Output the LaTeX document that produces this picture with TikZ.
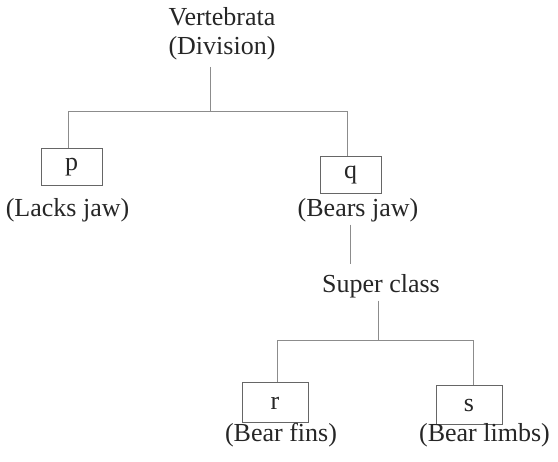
\documentclass[tikz,border=0pt]{standalone}
\usepackage{fontspec}
\setmainfont{Liberation Serif}
\usetikzlibrary{positioning}

\begin{document}
\begin{tikzpicture}[x=1pt, y=-1pt, every node/.style={font=\fontsize{26}{29}\selectfont, text=black!85},
    taxbox/.style={draw=black!60, line width=1pt, inner sep=0pt},
    taxlabel/.style={inner sep=2pt, anchor=base},
    link/.style={draw=black!45, line width=1pt}]
  \useasboundingbox (0,0) rectangle (558,462);

  % Division
  \node[align=center, anchor=south, inner sep=7pt] (vert) at (222,67) {Vertebrata\\(Division)};

  % First split
  \node[taxbox, minimum width=61pt, minimum height=37pt] (p) at (71.5,167.5) {p};
  \node[taxlabel] (lacks) at (67.5,217) {(Lacks jaw)};
  \node[taxbox, minimum width=61pt, minimum height=37pt] (q) at (350.5,175.5) {q};
  \node[taxlabel] (bears) at (358,217) {(Bears jaw)};

  % Super class
  \node[taxlabel] (super) at (381,293) {Super class};

  % Second split
  \node[taxbox, minimum width=66pt, minimum height=40pt] (r) at (275,403) {r};
  \node[taxlabel] (fins) at (281,442) {(Bear fins)};
  \node[taxbox, minimum width=66pt, minimum height=39pt] (s) at (469,405.5) {s};
  \node[taxlabel] (limbs) at (484.5,442) {(Bear limbs)};

  % Junctions
  \coordinate (split1) at (210,112);
  \coordinate (pjoin) at (68,112);
  \coordinate (qjoin) at (347,112);
  \coordinate (split2) at (378,341);
  \coordinate (rjoin) at (277,341);
  \coordinate (sjoin) at (473,341);

  % Connectors
  \draw[link] (vert.south -| split1) -- (split1);
  \draw[link] (p.north -| pjoin) -- (pjoin) -- (qjoin) -- (q.north -| qjoin);
  \draw[link] (bears.south -| q.south) -- ([yshift=9pt]super.north -| q.south);
  \draw[link] (super.south -| split2) -- (split2);
  \draw[link] (r.north -| rjoin) -- (rjoin) -- (sjoin) -- (s.north -| sjoin);
\end{tikzpicture}
\end{document}
